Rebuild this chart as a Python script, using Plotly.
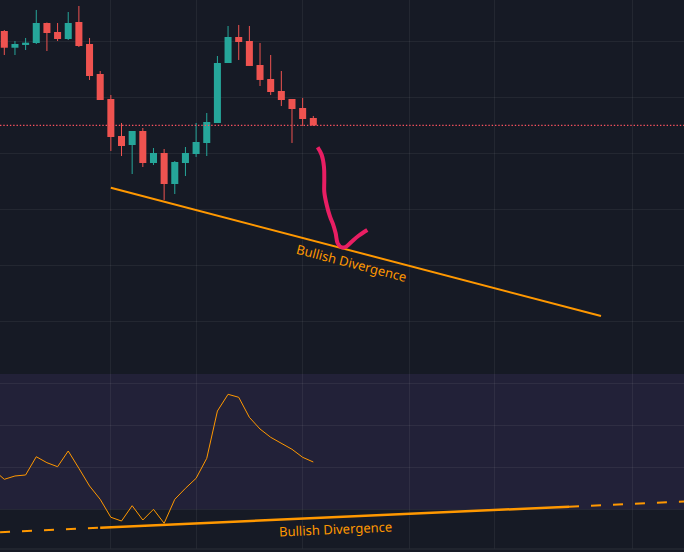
import plotly.graph_objects as go

# ---------------- data ----------------
bar_index = list(range(30))
opens = [101.79, 98.80, 99.29, 99.64, 103.21, 101.61, 100.36, 103.39, 99.46, 94.11,
         89.64, 83.04, 81.43, 83.93, 78.21, 80.00, 74.46, 78.21, 79.82, 81.79,
         85.36, 96.07, 100.71, 100.00, 95.71, 93.21, 91.07, 89.64, 88.04, 86.25]
highs = [101.96, 100.00, 100.54, 105.54, 103.30, 103.21, 105.18, 106.25, 100.54, 94.64,
         90.36, 85.36, 83.93, 84.46, 80.89, 80.71, 78.57, 81.07, 85.36, 87.14,
         97.32, 102.68, 102.86, 102.68, 99.64, 97.50, 94.64, 89.64, 89.82, 86.61]
lows = [97.50, 97.50, 98.39, 99.46, 98.21, 100.00, 100.18, 98.93, 93.04, 89.46,
        80.36, 79.46, 76.25, 77.50, 77.86, 71.61, 72.68, 75.89, 79.29, 79.46,
        85.36, 96.07, 96.61, 95.54, 91.96, 90.36, 88.39, 81.79, 84.82, 84.82]
closes = [98.80, 99.46, 99.70, 103.21, 101.43, 100.36, 103.21, 99.11, 93.75, 89.46,
          82.86, 81.25, 83.93, 78.21, 80.00, 74.46, 78.39, 80.00, 81.96, 85.54,
          96.07, 100.71, 99.82, 95.54, 93.04, 90.89, 89.46, 87.86, 86.07, 84.92]

osc_index = list(range(-1, 30))
osc_values = [39.36, 37.14, 37.93, 38.17, 42.52, 41.10, 40.14, 43.88, 39.76, 35.55,
              32.38, 28.10, 27.21, 30.86, 27.45, 30.00, 26.67, 32.38, 35.00, 37.38,
              42.14, 53.40, 57.38, 56.67, 51.90, 49.12, 47.14, 45.71, 44.29, 42.38, 41.26]

# drawings
price_div_x = [10, 56]
price_div_y = [73.80, 50.89]
osc_div_x = [9, 53]
osc_div_y = [25.62, 30.62]
osc_ext_left_x = [-0.40, 9]
osc_ext_left_y = [24.55, 25.62]
osc_ext_right_x = [53, 63.79]
osc_ext_right_y = [30.62, 31.86]
arrow_x = [29.41, 29.79, 30.00, 30.03, 30.03, 30.26, 30.57, 30.88, 31.10, 31.29,
           31.67, 32.07, 32.60, 33.22, 34.07]
arrow_y = [81.02, 79.64, 77.55, 75.18, 73.09, 70.71, 68.62, 67.14, 65.66, 63.87,
           63.16, 63.27, 64.16, 65.18, 66.25]
label_text = "Bullish Divergence"
price_label = (32.63, 60.36)
osc_label = (31.04, 25.31)

grid_x = [10, 18, 28, 38, 46, 59]
price_grid = [50, 60, 70, 80, 90, 100]
osc_grid = [30, 40, 50, 60]
osc_band = (30, 70)

# ---------------- style ----------------
UP = "#26a69a"
DOWN = "#ef5350"
ORANGE = "#ff9800"
BG = "#161a25"
GRID = "rgba(255,255,255,0.06)"
X_RANGE = [-0.4036, 63.79]
PRICE_RANGE = [40.536, 107.321]
OSC_RANGE = [20.548, 62.214]

fig = go.Figure()

# candle bodies
body_base = [min(o, c) for o, c in zip(opens, closes)]
body_h = [abs(c - o) for o, c in zip(opens, closes)]
colors = [UP if c >= o else DOWN for o, c in zip(opens, closes)]
fig.add_trace(go.Bar(x=bar_index, y=body_h, base=body_base, width=0.66,
                     marker=dict(color=colors, line=dict(width=0)),
                     xaxis="x", yaxis="y", hoverinfo="skip"))

# wicks
for col, cond in ((UP, lambda o, c: c >= o), (DOWN, lambda o, c: c < o)):
    wx, wy = [], []
    for i, o, h, l, c in zip(bar_index, opens, highs, lows, closes):
        if cond(o, c):
            wx += [i, i, None]
            wy += [l, h, None]
    fig.add_trace(go.Scatter(x=wx, y=wy, mode="lines", line=dict(color=col, width=1),
                             xaxis="x", yaxis="y", hoverinfo="skip"))

# price divergence line
fig.add_trace(go.Scatter(x=price_div_x, y=price_div_y, mode="lines",
                         line=dict(color=ORANGE, width=2), xaxis="x", yaxis="y"))
# hand-drawn arrow
fig.add_trace(go.Scatter(x=arrow_x, y=arrow_y, mode="lines",
                         line=dict(color="#e91e63", width=4, shape="spline"),
                         xaxis="x", yaxis="y"))

# oscillator
fig.add_trace(go.Scatter(x=osc_index, y=osc_values, mode="lines",
                         line=dict(color=ORANGE, width=1), xaxis="x2", yaxis="y2"))
fig.add_trace(go.Scatter(x=osc_div_x, y=osc_div_y, mode="lines",
                         line=dict(color=ORANGE, width=2.5), xaxis="x2", yaxis="y2"))
for ex, ey in ((osc_ext_left_x, osc_ext_left_y), (osc_ext_right_x, osc_ext_right_y)):
    fig.add_trace(go.Scatter(x=ex, y=ey, mode="lines",
                             line=dict(color=ORANGE, width=2, dash="10px,12px"),
                             xaxis="x2", yaxis="y2"))

shapes = [
    dict(type="rect", xref="paper", yref="y2", x0=0, x1=1, y0=osc_band[0],
         y1=min(osc_band[1], OSC_RANGE[1]), fillcolor="rgba(126,87,194,0.12)",
         line=dict(width=0), layer="below"),
    dict(type="line", xref="paper", yref="y", x0=0, x1=1, y0=closes[-1], y1=closes[-1],
         line=dict(color="#f7525f", width=1.3, dash="1.4px,1.9px")),
    dict(type="line", xref="paper", yref="paper", x0=0, x1=1, y0=3 / 552, y1=3 / 552,
         line=dict(color="#2a2e39", width=1)),
]

annotations = [
    dict(x=price_label[0], y=price_label[1], xref="x", yref="y", text=label_text,
         showarrow=False, textangle=14.6, font=dict(color=ORANGE, size=13, family="Noto Sans")),
    dict(x=osc_label[0], y=osc_label[1], xref="x2", yref="y2", text=label_text,
         showarrow=False, textangle=-2.6, font=dict(color=ORANGE, size=13, family="Noto Sans")),
]

axis_common = dict(showticklabels=False, zeroline=False, showline=False,
                   gridcolor=GRID, gridwidth=1, ticks="")

fig.update_layout(
    width=684, height=552, margin=dict(l=0, r=0, t=0, b=0),
    paper_bgcolor=BG, plot_bgcolor=BG, showlegend=False, barmode="overlay",
    shapes=shapes, annotations=annotations,
    xaxis=dict(range=X_RANGE, tickvals=grid_x, domain=[0, 1], anchor="y",
               rangeslider=dict(visible=False), **axis_common),
    yaxis=dict(range=PRICE_RANGE, tickvals=price_grid, domain=[178 / 552, 1],
               anchor="x", **axis_common),
    xaxis2=dict(range=X_RANGE, tickvals=grid_x, domain=[0, 1], anchor="y2",
                matches="x", **axis_common),
    yaxis2=dict(range=OSC_RANGE, tickvals=osc_grid, domain=[3 / 552, 178 / 552],
                anchor="x2", **axis_common),
)

fig.write_html("out.html")
